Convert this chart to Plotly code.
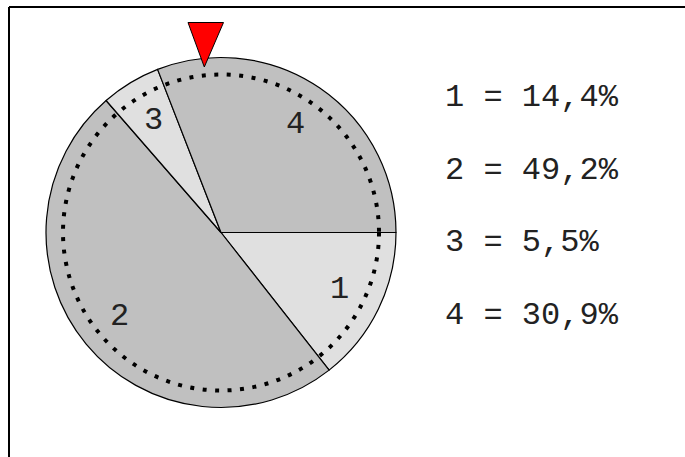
import math
import plotly.graph_objects as go

# ---- data ----
categories = ["1", "2", "3", "4"]
values = [14.4, 49.2, 5.5, 30.9]
slice_colors = ["#e0e0e0", "#c0c0c0", "#e0e0e0", "#c0c0c0"]
legend_labels = [f"{c} = {v:.1f}%".replace(".", ",") for c, v in zip(categories, values)]

W, H = 685, 457
CX, CY, R = 221.0, 232.5, 175.0   # wheel centre / radius in px

def px(x):
    return x / W

def py(y):
    return 1 - y / H

dom_x = [px(CX - R), px(CX + R)]
dom_y = [py(CY + R), py(CY - R)]

fig = go.Figure()
fig.add_trace(go.Pie(
    labels=categories,
    values=values,
    sort=False,
    direction="clockwise",
    rotation=90,
    marker=dict(colors=slice_colors, line=dict(color="#000000", width=1.2)),
    textinfo="none",
    hoverinfo="label+percent",
    showlegend=False,
    domain=dict(x=dom_x, y=dom_y),
))

mono = "Liberation Mono, Courier New, monospace"

# slice number labels at slice mid-angles (cartesian helper axis, units of radius)
annotations = []
total = sum(values)
cum = 0.0
for c, v in zip(categories, values):
    mid = (cum + v / 2) / total * 2 * math.pi
    cum += v
    rr = 0.75
    annotations.append(dict(
        x=rr * math.cos(mid), y=-rr * math.sin(mid), xref="x", yref="y",
        text=c, showarrow=False, xanchor="center", yanchor="middle",
        font=dict(family=mono, size=32, color="#222222"),
    ))

# legend text on the right
legend_y = [98, 170.5, 242.7, 315]
for lab, yy in zip(legend_labels, legend_y):
    annotations.append(dict(
        x=px(443), y=py(yy), xref="paper", yref="paper",
        text=lab, showarrow=False, xanchor="left", yanchor="middle",
        font=dict(family=mono, size=32, color="#222222"),
    ))

rd = 158 / R
shapes = [
    # dotted inner circle
    dict(type="circle", xref="x", yref="y", x0=-rd, x1=rd, y0=-rd, y1=rd,
         line=dict(color="#000000", width=4, dash="4px,8.5px"), layer="above"),
    # red pointer
    dict(type="path", xref="paper", yref="paper",
         path=f"M {px(188)} {py(22.5)} L {px(223.5)} {py(22.5)} L {px(204.3)} {py(67)} Z",
         fillcolor="#ff0000", line=dict(color="#000000", width=1), layer="above"),
    # frame (left and top)
    dict(type="line", xref="paper", yref="paper", x0=px(9), x1=px(9), y0=0, y1=py(7),
         line=dict(color="#000000", width=2)),
    dict(type="line", xref="paper", yref="paper", x0=px(9), x1=1, y0=py(7), y1=py(7),
         line=dict(color="#000000", width=2)),
]

fig.update_layout(
    width=W, height=H, autosize=False,
    margin=dict(l=0, r=0, t=0, b=0, pad=0),
    paper_bgcolor="#ffffff", plot_bgcolor="rgba(0,0,0,0)",
    xaxis=dict(domain=dom_x, range=[-1, 1], visible=False, fixedrange=True),
    yaxis=dict(domain=dom_y, range=[-1, 1], visible=False, fixedrange=True),
    annotations=annotations,
    shapes=shapes,
    showlegend=False,
)

fig.write_html(
    "out.html",
    config={"displayModeBar": False},
    post_script="document.body.style.margin='0px';document.body.style.overflow='hidden';",
)
